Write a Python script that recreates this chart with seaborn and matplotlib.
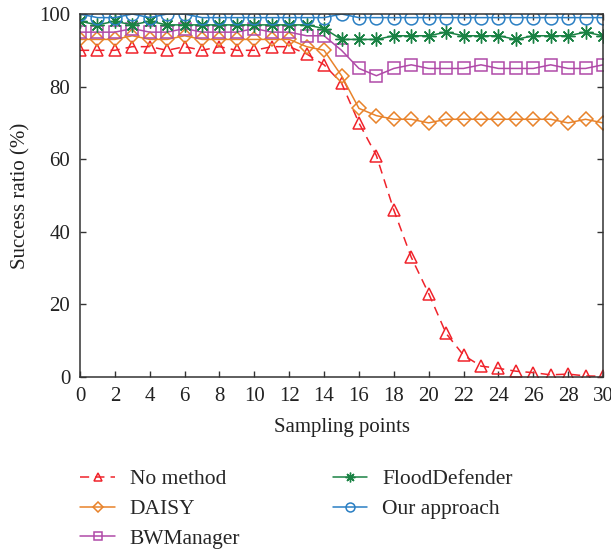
import numpy as np
import pandas as pd
import matplotlib
matplotlib.use("Agg")
import matplotlib.pyplot as plt
import seaborn as sns

sampling_points = list(range(31))

no_method = [90, 90, 90, 91, 91, 90, 91, 90, 91, 90, 90, 91, 91, 89, 86, 81,
             70, 61, 46, 33, 23, 12, 6, 3, 2.4, 1.6, 1.2, 0.6, 0.8, 0.3, 0.2]
daisy = [93, 93, 93, 94, 93, 93, 94, 93, 93, 93, 93, 93, 93, 91, 90, 83,
         74, 72, 71, 71, 70, 71, 71, 71, 71, 71, 71, 71, 70, 71, 70]
bwmanager = [95, 95, 95, 96, 95, 95, 96, 95, 95, 95, 96, 95, 95, 94, 94, 90,
             85, 83, 85, 86, 85, 85, 85, 86, 85, 85, 85, 86, 85, 85, 86]
flooddefender = [98, 97, 98, 97, 98, 97, 97, 97, 97, 97, 97, 97, 97, 97, 96, 93,
                 93, 93, 94, 94, 94, 95, 94, 94, 94, 93, 94, 94, 94, 95, 94]
our_approach = [100, 99, 99, 100, 99, 100, 100, 99, 99, 99, 99, 99, 99, 99, 99, 100,
                99, 99, 99, 99, 99, 99, 99, 99, 99, 99, 99, 99, 99, 99, 99]

# name, values, colour, marker, marker size, dashed
series = [
    ("No method", no_method, "#f0232b", "^", 9, True),
    ("DAISY", daisy, "#e8822a", "D", 7.5, False),
    ("BWManager", bwmanager, "#b04aa8", "s", 8, False),
    ("FloodDefender", flooddefender, "#1a8244", (8, 2, 0), 10, False),
    ("Our approach", our_approach, "#2a7fc3", "o", 9.2, False),
]

sns.set_theme(style="ticks")
plt.rcParams["font.family"] = ["Liberation Serif", "DejaVu Serif"]
plt.rcParams["axes.edgecolor"] = "#333333"

fig = plt.figure(figsize=(6.11, 5.52), dpi=100)
ax = fig.add_axes([80 / 611, 1 - 377 / 552, (603 - 80) / 611, (377 - 14) / 552])

for name, vals, color, marker, msize, dashed in series:
    df = pd.DataFrame({"x": sampling_points, "y": vals})
    if isinstance(marker, tuple):
        mkw = dict(markerfacecolor=color, markeredgecolor=color, markeredgewidth=1.0)
    else:
        mkw = dict(markerfacecolor="none", markeredgecolor=color, markeredgewidth=1.1)
    sns.lineplot(data=df, x="x", y="y", ax=ax, color=color, marker=marker,
                 markersize=msize, linewidth=1.1, label=name, **mkw)
    if dashed:
        ax.lines[-1].set_dashes((6, 4))

ax.set_xlim(0, 30)
ax.set_ylim(0, 100)
ax.set_xticks(range(0, 31, 2))
ax.set_yticks(range(0, 101, 20))
ax.tick_params(direction="in", length=4, width=1, top=True, right=True,
               labelsize=15, colors="#333333", labelcolor="#222222", pad=7)
for sp in ax.spines.values():
    sp.set_visible(True)
    sp.set_linewidth(1.1)
ax.set_xlabel("Sampling points", fontsize=15, color="#222222", labelpad=9)
ax.set_ylabel("Success ratio (%)", fontsize=15, color="#222222", labelpad=6)

handles, labels = ax.get_legend_handles_labels()
ax.legend(handles, labels, ncol=2, frameon=False, fontsize=15.5,
          loc="upper left", bbox_to_anchor=(61 / 611, 1 - 450 / 552),
          bbox_transform=fig.transFigure, handlelength=1.6, handletextpad=0.7,
          labelspacing=0.45, columnspacing=4.3, markerscale=0.7)

fig.savefig("out.png", dpi=100)
